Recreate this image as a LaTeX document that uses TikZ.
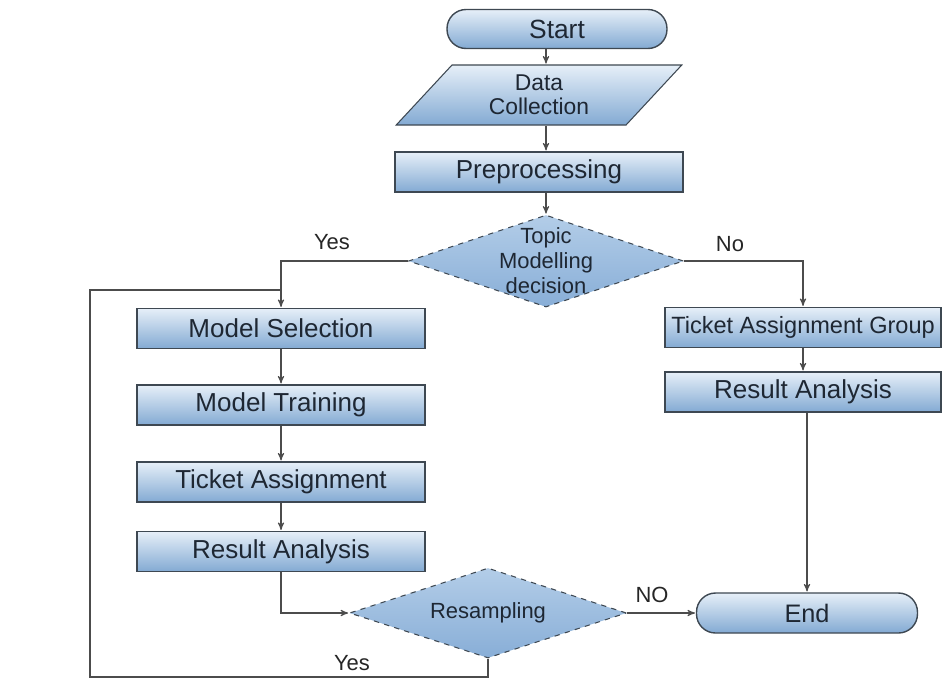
\documentclass[tikz,border=0pt]{standalone}
\usepackage{fontspec}
\setmainfont{Liberation Sans}
\usetikzlibrary{arrows, shapes.geometric}
\definecolor{boxtop}{HTML}{E6EFF8}
\definecolor{boxbot}{HTML}{83AAD3}
\definecolor{diatop}{HTML}{B3CDE8}
\definecolor{diabot}{HTML}{88AED7}
\definecolor{edge}{HTML}{3E4852}
\definecolor{txt}{HTML}{1E2733}
\begin{document}
\begin{tikzpicture}[>=stealth', x=0.02cm, y=-0.02cm,
  proc/.style={rectangle, draw=edge, line width=0.8pt, top color=boxtop, bottom color=boxbot,
    text=txt, minimum width=5.76cm, minimum height=0.8cm, inner sep=0pt, font=\fontsize{14.8}{17}\selectfont},
  pill/.style={rectangle, rounded corners=0.38cm, draw=edge, line width=0.8pt, top color=boxtop, bottom color=boxbot,
    text=txt, minimum height=0.78cm, inner sep=0pt, font=\fontsize{15}{18}\selectfont},
  decide/.style={diamond, aspect=3, draw=edge, dashed, line width=0.6pt, top color=diatop, bottom color=diabot,
    text=txt, inner sep=0pt, align=center, font=\fontsize{12.5}{14.2}\selectfont},
  flow/.style={draw=black!70, line width=0.6pt, ->, shorten >=0.5pt},
  lbl/.style={text=black!85, font=\fontsize{12.5}{15}\selectfont}]

\useasboundingbox (0,0) rectangle (943,681);

\node[pill, minimum width=4.4cm] (start) at (557,29) {Start};
\node[trapezium, trapezium left angle=51, trapezium right angle=129, trapezium stretches=true,
  draw=edge, line width=0.6pt, top color=boxtop, bottom color=boxbot, text=txt, align=center,
  minimum width=5.76cm, minimum height=1.2cm, inner sep=0pt,
  font=\fontsize{13}{13.5}\selectfont] (data) at (539,95) {Data\\Collection};
\node[proc] (pre) at (539,172) {Preprocessing};
\node[decide, inner ysep=-0.25cm, minimum width=5.5cm, minimum height=1.84cm] (topic) at (546,261) {Topic\\Modelling\\decision};

\node[proc] (msel) at (281,328.5) {Model Selection};
\node[proc] (mtrain) at (281,405) {Model Training};
\node[proc] (tassign) at (281,482) {Ticket Assignment};
\node[proc] (resa) at (281,551.5) {Result Analysis};

\node[proc, minimum width=5.52cm, font=\fontsize{13.4}{16}\selectfont] (tag) at (803,327.5) {Ticket Assignment Group};
\node[proc, minimum width=5.52cm] (resb) at (803,392) {Result Analysis};

\node[decide, minimum width=5.54cm, minimum height=1.8cm] (resamp) at (488,613) {Resampling};
\node[pill, minimum width=4.42cm, minimum height=0.8cm, font=\fontsize{14.4}{17}\selectfont] (endn) at (807,613) {End};

\draw[flow] (start.south -| topic.north) -- (data.north -| topic.north);
\draw[flow] (data.south -| topic.north) -- (pre.north -| topic.north);
\draw[flow] (pre.south -| topic.north) -- (topic.north);

\draw[flow] (topic.west) -| (msel.north);
\draw[flow] (topic.east) -| (tag.north);
\draw[flow] (msel) -- (mtrain);
\draw[flow] (mtrain) -- (tassign);
\draw[flow] (tassign) -- (resa);
\draw[flow] (resa.south) |- (resamp.west);
\draw[flow] (tag) -- (resb);
\draw[flow] (resb.south -| endn.north) -- (endn.north);
\draw[flow] (resamp.east) -- (endn.west);

\coordinate (loopb) at (90,677);
\coordinate (loopt) at (90,290);
\draw[draw=black!70, line width=0.6pt] (resamp.south) |- (loopb) -- (loopt) -- (loopt -| msel.north);

\node[lbl] (yes1) at (332,242) {Yes};
\node[lbl] (no1) at (730,244) {No};
\node[lbl] (no2) at (652,595) {NO};
\node[lbl] (yes2) at (352,663) {Yes};

\end{tikzpicture}
\end{document}
